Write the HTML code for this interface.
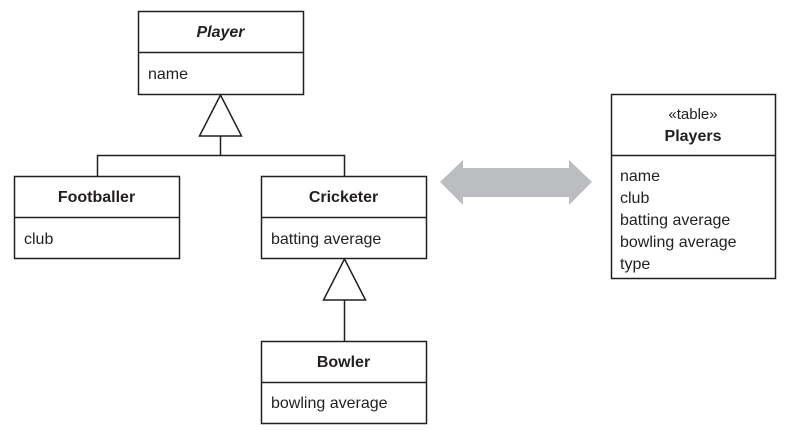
<!DOCTYPE html>
<html><head><style>
body{margin:0;background:#fff;}
</style></head><body>
<svg width="799" height="439" xmlns="http://www.w3.org/2000/svg" font-family="Liberation Sans, Arial, sans-serif" font-size="16" fill="#231f20">
<g fill="none" stroke="#231f20" stroke-width="1.5">
<rect x="138.5" y="11.5" width="165" height="83"/><line x1="138" y1="52.5" x2="303" y2="52.5"/>
<rect x="14.5" y="176.5" width="165" height="82"/><line x1="14" y1="217.5" x2="179" y2="217.5"/>
<rect x="261.5" y="176.5" width="165" height="82"/><line x1="261" y1="217.5" x2="426" y2="217.5"/>
<rect x="261.5" y="341.5" width="165" height="82"/><line x1="261" y1="382.5" x2="426" y2="382.5"/>
<rect x="611.5" y="94.5" width="164" height="184"/><line x1="611" y1="155.5" x2="775" y2="155.5"/>
<polygon points="220.5,95 199.5,136 241.5,136"/>
<line x1="220.5" y1="136" x2="220.5" y2="155"/>
<polyline points="97.5,176 97.5,155.5 344.5,155.5 344.5,176"/>
<polygon points="344.5,259 323.5,300 365.5,300"/>
<line x1="344.5" y1="300" x2="344.5" y2="341"/>
</g>
<polygon points="440,182 463,160 463,168 569,168 569,160 592,182 569,205 569,197 463,197 463,205" fill="#bcbdc0"/>
<text x="220.5" y="37" text-anchor="middle" font-weight="bold" font-style="italic">Player</text>
<text x="148" y="79">name</text>
<text x="96.5" y="202" text-anchor="middle" font-weight="bold">Footballer</text>
<text x="24" y="244">club</text>
<text x="343.5" y="202" text-anchor="middle" font-weight="bold">Cricketer</text>
<text x="271" y="244">batting average</text>
<text x="343.5" y="367" text-anchor="middle" font-weight="bold">Bowler</text>
<text x="271" y="408">bowling average</text>
<text x="693" y="119" text-anchor="middle" font-size="15">«table»</text>
<text x="693" y="141" text-anchor="middle" font-weight="bold">Players</text>
<text x="620" y="181">name</text>
<text x="620" y="203">club</text>
<text x="620" y="225">batting average</text>
<text x="620" y="247">bowling average</text>
<text x="620" y="269">type</text>
</svg>
</body></html>
